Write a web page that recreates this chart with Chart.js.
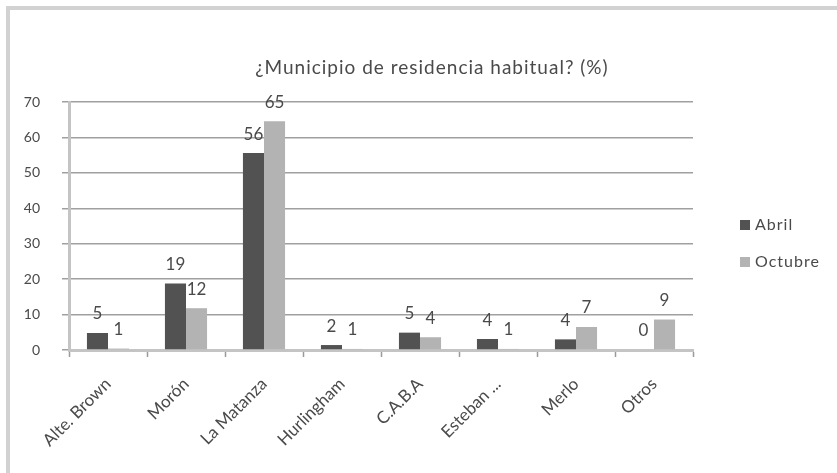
<!DOCTYPE html>
<html>
<head>
<meta charset="utf-8">
<script src="https://cdn.jsdelivr.net/npm/chart.js@4.4.1/dist/chart.umd.min.js"></script>
<style>
  html, body { margin: 0; padding: 0; background: #fff; }
  #wrap { position: relative; width: 837px; height: 473px; overflow: hidden; }
  #frame { position: absolute; left: 6px; top: 6px; width: 900px; height: 600px;
           border-left: 4px solid #d2d2d2; border-top: 4px solid #d2d2d2; }
  canvas { position: absolute; left: 0; top: 0; }
</style>
</head>
<body>
<div id="wrap">
  <div id="frame"></div>
  <canvas id="chart" width="837" height="473"></canvas>
</div>
<script>
const titleText = '¿Municipio de residencia habitual? (%)';
const municipios = ['Alte. Brown', 'Morón', 'La Matanza', 'Hurlingham', 'C.A.B.A', 'Esteban ...', 'Merlo', 'Otros'];
const abril = [4.8, 18.8, 55.6, 1.4, 4.9, 3.1, 3.0, 0];
const octubre = [0.4, 11.8, 64.6, 0.3, 3.6, 0.3, 6.5, 8.6];
const abrilLabels = ['5', '19', '56', '2', '5', '4', '4', '0'];
const octubreLabels = ['1', '12', '65', '1', '4', '1', '7', '9'];
const yTicks = [0, 10, 20, 30, 40, 50, 60, 70];

const FONT = 'Lato';
const TEXT = '#4a4a4a';

// numbers above each bar
const valueLabels = {
    id: 'valueLabels',
    afterDatasetsDraw(chart) {
        const ctx = chart.ctx;
        ctx.save();
        ctx.font = '17px ' + FONT;
        ctx.fillStyle = TEXT;
        ctx.textAlign = 'center';
        ctx.textBaseline = 'middle';
        chart.data.datasets.forEach((ds, i) => {
            chart.getDatasetMeta(i).data.forEach((bar, j) => {
                ctx.fillText(ds.valueText[j], bar.x, bar.y - 19);
            });
        });
        ctx.restore();
    }
};

// title and legend placed like the original
const titleLegend = {
    id: 'titleLegend',
    afterDraw(chart) {
        const ctx = chart.ctx;
        ctx.save();
        ctx.fillStyle = TEXT;
        ctx.letterSpacing = '1px';
        ctx.font = '19px ' + FONT;
        ctx.textAlign = 'center';
        ctx.textBaseline = 'middle';
        ctx.fillText(titleText, 432, 68);
        ctx.font = '16px ' + FONT;
        ctx.textAlign = 'left';
        chart.data.datasets.forEach((ds, i) => {
            const y = 225 + i * 37;
            ctx.fillStyle = ds.backgroundColor;
            ctx.fillRect(740, y - 5, 10, 10);
            ctx.fillStyle = TEXT;
            ctx.fillText(ds.label, 755, y);
        });
        ctx.restore();
    }
};

const ctxMunicipio = document.getElementById('chart').getContext('2d');
const myChart = new Chart(ctxMunicipio, {
    type: 'bar',
    data: {
        labels: municipios,
        datasets: [{
            label: 'Abril',
            data: abril,
            valueText: abrilLabels,
            backgroundColor: '#525252'
        }, {
            label: 'Octubre',
            data: octubre,
            valueText: octubreLabels,
            backgroundColor: '#b3b3b3'
        }]
    },
    options: {
        responsive: false,
        animation: false,
        categoryPercentage: 0.54,
        barPercentage: 1,
        layout: {
            padding: { top: 102, right: 144, left: 0, bottom: 0 }
        },
        plugins: {
            title: { display: false },
            legend: { display: false },
            tooltip: { enabled: false }
        },
        scales: {
            x: {
                afterFit(s) { s.height = 123; },
                grid: {
                    display: true,
                    drawOnChartArea: false,
                    tickLength: 7,
                    tickWidth: 1.5,
                    tickColor: '#9a9a9a',
                    offset: true
                },
                border: { color: '#c4c4c4', width: 3 },
                ticks: {
                    minRotation: 45,
                    maxRotation: 45,
                    padding: 17,
                    color: TEXT,
                    font: { family: FONT, size: 17 }
                }
            },
            y: {
                min: 0,
                max: 70,
                afterFit(s) { s.width = 69; },
                afterBuildTicks(s) { s.ticks = yTicks.map(v => ({ value: v })); },
                grid: {
                    color: '#a0a0a0',
                    lineWidth: 1.5,
                    tickLength: 7,
                    tickColor: '#a0a0a0'
                },
                border: { color: '#c4c4c4', width: 3 },
                ticks: {
                    padding: 22,
                    color: TEXT,
                    font: { family: FONT, size: 14 }
                }
            }
        }
    },
    plugins: [valueLabels, titleLegend]
});
</script>
</body>
</html>
